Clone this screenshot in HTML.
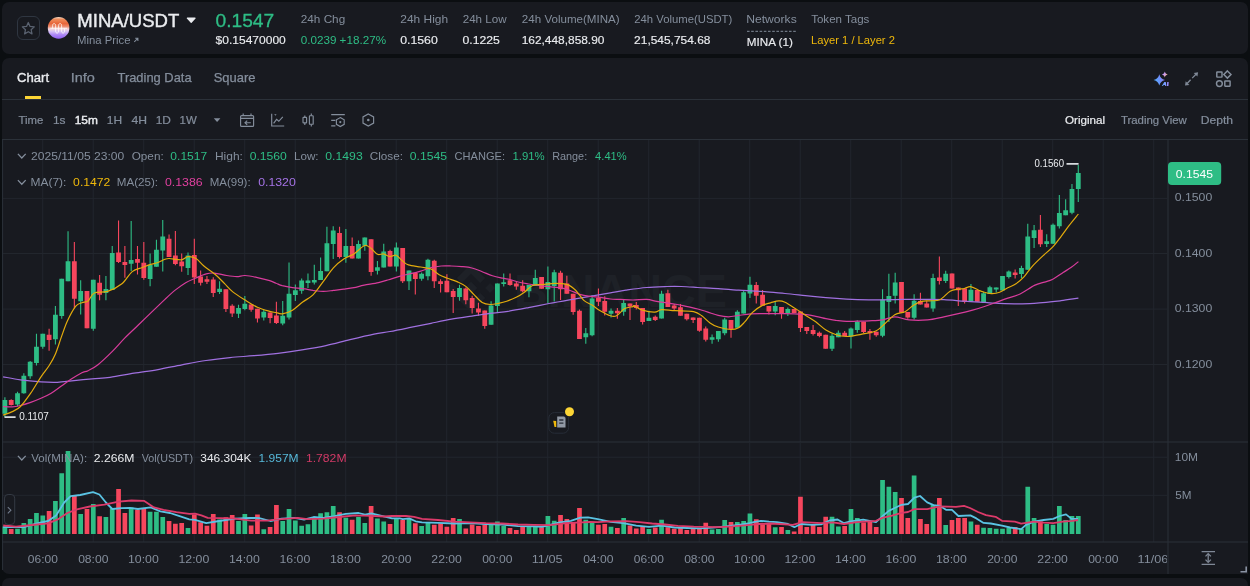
<!DOCTYPE html>
<html><head><meta charset="utf-8"><title>MINA/USDT</title>
<style>
html,body{margin:0;padding:0;background:#0b0e11;}
body{width:1250px;height:586px;position:relative;overflow:hidden;font-family:"Liberation Sans",sans-serif;}
.panel{position:absolute;background:#181a20;border-radius:7px;}
.abs{position:absolute;}
.t{position:absolute;white-space:nowrap;line-height:1;transform-origin:0 0;font-family:"Liberation Sans",sans-serif;}
.hline{position:absolute;left:2px;width:1246px;height:1px;background:#2b3139;}
.chart{position:absolute;left:0;top:0;}
.txt{position:absolute;left:0;top:0;width:1250px;height:586px;will-change:transform;}
.xaxis{position:absolute;left:0;top:0;width:1167px;height:586px;overflow:hidden;}
</style></head><body>
<div class="panel" style="left:2px;top:2px;width:1246px;height:52px"></div>
<div class="panel" style="left:2px;top:57.6px;width:1246px;height:516.4px;border-bottom-right-radius:0"></div>
<div class="panel" style="left:2px;top:577.6px;width:1246px;height:30px"></div>
<div class="hline" style="top:99px"></div>
<div class="hline" style="top:139px"></div>
<svg class="chart" width="1250" height="586" viewBox="0 0 1250 586">
<path d="M42.7,140V442M42.7,443V542M93.2,140V442M93.2,443V542M143.7,140V442M143.7,443V542M194.2,140V442M194.2,443V542M244.7,140V442M244.7,443V542M295.2,140V442M295.2,443V542M345.7,140V442M345.7,443V542M396.2,140V442M396.2,443V542M446.7,140V442M446.7,443V542M497.2,140V442M497.2,443V542M547.7,140V442M547.7,443V542M598.2,140V442M598.2,443V542M648.7,140V442M648.7,443V542M699.2,140V442M699.2,443V542M749.7,140V442M749.7,443V542M800.2,140V442M800.2,443V542M850.7,140V442M850.7,443V542M901.2,140V442M901.2,443V542M951.7,140V442M951.7,443V542M1002.2,140V442M1002.2,443V542M1052.7,140V442M1052.7,443V542M1103.2,140V442M1103.2,443V542M1153.7,140V442M1153.7,443V542M3,198.4H1167M3,253.5H1167M3,309.1H1167M3,364.5H1167M3,457.2H1167M3,495.3H1167" stroke="#22262d" stroke-width="1" fill="none"/>
<g fill="#1e2127">
<text x="514" y="307.3" font-family="Liberation Sans, sans-serif" font-weight="700" font-size="47" textLength="213" lengthAdjust="spacingAndGlyphs">BINANCE</text>
<g transform="translate(471,288) rotate(45)"><rect x="-4.5" y="-4.5" width="9" height="9"/><path d="M-17,-17H3V-10H-10V3H-17Z"/><path d="M17,17H-3V10H10V-3H17Z"/><rect x="10" y="-17" width="7" height="7"/><rect x="-17" y="10" width="7" height="7"/></g>
</g>
<path d="M2,442H1248M2,542H1248M1168,140V574M2.6,140V570" stroke="#2b3139" stroke-width="1" fill="none"/>
<path d="M2.55,526.6H7.25V534H2.55ZM15.18,528.7H19.88V534H15.18ZM21.49,522.9H26.19V534H21.49ZM27.81,518.9H32.51V534H27.81ZM34.12,513.0H38.82V534H34.12ZM40.43,515.4H45.13V534H40.43ZM53.06,500.9H57.76V534H53.06ZM59.38,473.2H64.08V534H59.38ZM65.69,450.9H70.39V534H65.69ZM78.32,514.1H83.02V534H78.32ZM90.95,504.1H95.65V534H90.95ZM103.57,517.0H108.27V534H103.57ZM109.89,508.2H114.59V534H109.89ZM128.83,507.4H133.53V534H128.83ZM147.77,511.8H152.47V534H147.77ZM154.09,511.8H158.79V534H154.09ZM160.40,517.0H165.10V534H160.40ZM185.66,527.9H190.36V534H185.66ZM217.23,519.4H221.93V534H217.23ZM236.17,521.0H240.87V534H236.17ZM242.48,514.1H247.18V534H242.48ZM261.42,529.3H266.12V534H261.42ZM280.37,521.0H285.07V534H280.37ZM286.68,509.0H291.38V534H286.68ZM292.99,520.5H297.69V534H292.99ZM299.31,525.8H304.01V534H299.31ZM305.62,524.2H310.32V534H305.62ZM311.94,517.0H316.64V534H311.94ZM318.25,513.3H322.95V534H318.25ZM324.56,512.2H329.26V534H324.56ZM330.88,506.1H335.58V534H330.88ZM343.51,517.8H348.21V534H343.51ZM356.13,517.0H360.83V534H356.13ZM362.45,522.9H367.15V534H362.45ZM375.08,518.6H379.78V534H375.08ZM381.39,521.5H386.09V534H381.39ZM394.02,518.4H398.72V534H394.02ZM406.65,518.4H411.35V534H406.65ZM419.27,525.9H423.97V534H419.27ZM425.59,522.9H430.29V534H425.59ZM457.16,518.9H461.86V534H457.16ZM488.73,523.5H493.43V534H488.73ZM495.04,521.6H499.74V534H495.04ZM501.36,525.9H506.06V534H501.36ZM526.61,526.4H531.31V534H526.61ZM532.93,526.4H537.63V534H532.93ZM545.55,516.0H550.25V534H545.55ZM551.87,520.8H556.57V534H551.87ZM583.44,519.8H588.14V534H583.44ZM589.75,522.4H594.45V534H589.75ZM608.69,526.7H613.39V534H608.69ZM621.32,517.9H626.02V534H621.32ZM646.58,529.1H651.28V534H646.58ZM659.21,519.7H663.91V534H659.21ZM709.72,529.6H714.42V534H709.72ZM716.03,529.1H720.73V534H716.03ZM722.35,520.0H727.05V534H722.35ZM734.97,522.1H739.67V534H734.97ZM741.29,521.1H745.99V534H741.29ZM747.60,513.6H752.30V534H747.60ZM772.86,527.2H777.56V534H772.86ZM785.49,529.9H790.19V534H785.49ZM829.68,516.8H834.38V534H829.68ZM836.00,526.4H840.70V534H836.00ZM848.63,509.1H853.33V534H848.63ZM854.94,518.1H859.64V534H854.94ZM880.20,480.0H884.90V534H880.20ZM886.51,486.7H891.21V534H886.51ZM892.82,492.0H897.52V534H892.82ZM911.77,475.5H916.47V534H911.77ZM930.71,504.8H935.41V534H930.71ZM943.34,525.1H948.04V534H943.34ZM968.59,521.6H973.29V534H968.59ZM981.22,527.7H985.92V534H981.22ZM987.53,528.0H992.23V534H987.53ZM993.85,528.8H998.55V534H993.85ZM1000.16,528.8H1004.86V534H1000.16ZM1006.48,528.0H1011.18V534H1006.48ZM1019.10,528.8H1023.80V534H1019.10ZM1025.42,486.7H1030.12V534H1025.42ZM1031.73,518.1H1036.43V534H1031.73ZM1044.36,524.0H1049.06V534H1044.36ZM1050.67,524.8H1055.37V534H1050.67ZM1056.99,506.1H1061.69V534H1056.99ZM1063.30,520.0H1068.00V534H1063.30ZM1069.62,516.0H1074.32V534H1069.62ZM1075.93,516.0H1080.63V534H1075.93Z" fill="#2ebd85"/>
<path d="M8.86,529.0H13.56V534H8.86ZM46.75,511.0H51.45V534H46.75ZM72.00,496.1H76.70V534H72.00ZM84.63,509.0H89.33V534H84.63ZM97.26,516.2H101.96V534H97.26ZM116.20,488.9H120.90V534H116.20ZM122.52,513.0H127.22V534H122.52ZM135.14,509.8H139.84V534H135.14ZM141.46,509.0H146.16V534H141.46ZM166.71,521.0H171.41V534H166.71ZM173.03,523.7H177.73V534H173.03ZM179.34,522.9H184.04V534H179.34ZM191.97,514.6H196.67V534H191.97ZM198.28,522.3H202.98V534H198.28ZM204.60,525.8H209.30V534H204.60ZM210.91,514.1H215.61V534H210.91ZM223.54,517.3H228.24V534H223.54ZM229.85,515.0H234.55V534H229.85ZM248.80,525.5H253.50V534H248.80ZM255.11,514.6H259.81V534H255.11ZM267.74,527.1H272.44V534H267.74ZM274.05,504.9H278.75V534H274.05ZM337.19,512.2H341.89V534H337.19ZM349.82,519.7H354.52V534H349.82ZM368.76,506.1H373.46V534H368.76ZM387.70,523.9H392.40V534H387.70ZM400.33,520.0H405.03V534H400.33ZM412.96,523.2H417.66V534H412.96ZM431.90,524.8H436.60V534H431.90ZM438.22,523.5H442.92V534H438.22ZM444.53,526.7H449.23V534H444.53ZM450.84,517.9H455.54V534H450.84ZM463.47,528.5H468.17V534H463.47ZM469.79,524.5H474.49V534H469.79ZM476.10,525.9H480.80V534H476.10ZM482.41,524.8H487.11V534H482.41ZM507.67,528.0H512.37V534H507.67ZM513.98,529.9H518.68V534H513.98ZM520.30,526.4H525.00V534H520.30ZM539.24,527.2H543.94V534H539.24ZM558.18,514.9H562.88V534H558.18ZM564.50,518.9H569.20V534H564.50ZM570.81,521.9H575.51V534H570.81ZM577.12,508.0H581.82V534H577.12ZM596.07,524.8H600.77V534H596.07ZM602.38,524.0H607.08V534H602.38ZM615.01,528.0H619.71V534H615.01ZM627.64,525.6H632.34V534H627.64ZM633.95,528.5H638.65V534H633.95ZM640.26,526.4H644.96V534H640.26ZM652.89,527.5H657.59V534H652.89ZM665.52,527.2H670.22V534H665.52ZM671.83,528.8H676.53V534H671.83ZM678.15,527.5H682.85V534H678.15ZM684.46,529.9H689.16V534H684.46ZM690.78,528.8H695.48V534H690.78ZM697.09,529.1H701.79V534H697.09ZM703.40,522.7H708.10V534H703.40ZM728.66,522.1H733.36V534H728.66ZM753.92,519.2H758.62V534H753.92ZM760.23,524.3H764.93V534H760.23ZM766.54,524.0H771.24V534H766.54ZM779.17,527.0H783.87V534H779.17ZM791.80,531.5H796.50V534H791.80ZM798.11,496.8H802.81V534H798.11ZM804.43,526.9H809.13V534H804.43ZM810.74,524.8H815.44V534H810.74ZM817.06,526.9H821.76V534H817.06ZM823.37,516.8H828.07V534H823.37ZM842.31,526.1H847.01V534H842.31ZM861.25,522.4H865.95V534H861.25ZM867.57,521.6H872.27V534H867.57ZM873.88,526.9H878.58V534H873.88ZM899.14,497.9H903.84V534H899.14ZM905.45,518.1H910.15V534H905.45ZM918.08,518.9H922.78V534H918.08ZM924.39,524.0H929.09V534H924.39ZM937.02,497.9H941.72V534H937.02ZM949.65,520.0H954.35V534H949.65ZM955.96,517.9H960.66V534H955.96ZM962.28,517.9H966.98V534H962.28ZM974.91,524.8H979.61V534H974.91ZM1012.79,526.9H1017.49V534H1012.79ZM1038.05,521.6H1042.75V534H1038.05Z" fill="#f6465d"/>
<path d="M3.2,527.1 L24.1,527.1 L36.9,523.4 L48.1,521.0 L56.1,515.4 L64.2,502.5 L70.6,496.1 L80.2,495.0 L93.0,492.1 L99.4,494.5 L105.9,502.5 L112.3,509.0 L121.9,508.2 L129.9,507.8 L137.9,509.0 L150.8,507.4 L160.4,511.4 L170.0,513.0 L179.6,516.2 L189.3,519.4 L195.0,519.8 L206.2,523.1 L219.1,521.0 L235.1,518.6 L249.5,517.8 L259.2,518.1 L270.4,521.0 L281.6,518.6 L294.4,517.8 L304.1,519.7 L313.7,517.0 L323.3,517.8 L334.5,516.2 L345.8,513.8 L358.6,513.0 L365.0,514.6 L371.4,513.4 L382.7,516.2 L392.0,518.4 L399.6,518.4 L402.8,519.2 L409.2,518.4 L415.6,521.3 L422.0,522.4 L438.0,522.9 L454.0,523.5 L470.0,523.2 L486.0,524.0 L502.0,524.5 L518.0,526.1 L534.0,526.4 L542.0,526.9 L550.0,524.8 L559.6,522.4 L570.8,520.8 L580.4,517.6 L588.0,517.4 L597.8,519.2 L610.6,521.9 L623.4,523.2 L636.2,525.6 L649.0,526.9 L661.8,525.6 L674.6,527.5 L687.4,528.0 L700.2,528.3 L713.0,527.7 L725.8,526.4 L738.6,524.8 L748.2,523.5 L754.6,521.9 L761.0,520.8 L769.0,521.6 L777.0,522.2 L788.0,524.0 L794.4,527.2 L800.8,524.0 L812.0,524.8 L821.6,524.3 L829.6,520.5 L837.6,519.5 L844.0,523.2 L850.4,521.3 L863.2,519.7 L876.0,522.1 L882.4,516.3 L888.8,510.9 L895.2,507.7 L901.6,504.8 L908.0,504.0 L914.4,497.6 L920.0,496.0 L927.2,502.4 L933.6,505.1 L940.0,505.9 L946.4,509.9 L952.0,509.9 L958.4,516.0 L970.4,515.4 L976.4,518.4 L983.6,522.9 L990.8,523.5 L1002.0,525.6 L1010.0,527.5 L1021.2,529.1 L1026.0,524.8 L1034.0,521.6 L1043.6,520.0 L1053.2,518.9 L1059.6,516.0 L1066.0,514.4 L1071.6,518.9 L1078.0,518.9" stroke="#5ac3e3" stroke-width="1.8" fill="none" stroke-linejoin="round"/>
<path d="M3.2,525.5 L16.0,526.6 L32.1,525.0 L48.1,523.4 L57.7,519.4 L67.4,513.0 L77.0,509.4 L89.8,506.5 L104.3,504.6 L118.7,501.7 L131.5,500.5 L144.3,500.9 L154.0,507.4 L163.6,509.8 L176.4,512.2 L189.3,513.8 L195.0,513.6 L201.4,515.4 L207.8,517.8 L220.7,518.1 L235.1,518.6 L251.1,520.7 L267.2,520.7 L281.6,519.1 L297.6,517.8 L307.3,519.1 L323.3,518.6 L339.3,517.0 L355.4,515.4 L371.4,515.9 L384.2,516.5 L392.0,516.0 L406.0,516.0 L414.0,516.8 L422.0,518.9 L438.0,520.0 L454.0,521.6 L470.0,522.4 L486.0,523.2 L502.0,523.5 L518.0,524.5 L534.0,524.8 L550.0,525.1 L566.0,523.2 L582.0,522.4 L590.0,522.0 L597.8,522.1 L610.6,521.3 L626.6,521.1 L639.4,522.1 L652.2,523.5 L665.0,524.5 L677.8,525.9 L693.8,526.7 L706.6,526.9 L719.4,527.2 L732.2,526.4 L745.0,525.3 L757.8,524.0 L770.6,523.5 L780.0,524.0 L792.8,524.8 L802.4,522.1 L821.6,523.2 L832.8,522.4 L844.0,524.0 L856.8,522.1 L876.0,520.8 L882.4,517.9 L892.0,515.7 L901.6,512.8 L908.0,512.0 L914.4,509.1 L927.2,509.1 L933.6,507.7 L940.0,506.4 L956.0,506.9 L964.0,505.9 L970.0,508.0 L978.0,512.0 L986.0,515.2 L995.6,516.8 L1002.0,520.8 L1014.8,521.6 L1021.2,523.7 L1034.0,521.6 L1043.6,522.7 L1053.2,523.2 L1062.8,521.6 L1072.4,520.8 L1078.0,520.0" stroke="#dc3a6a" stroke-width="1.8" fill="none" stroke-linejoin="round"/>
<path d="M4.90,397.3V417.0M17.53,391.7V406.5M23.84,373.3V393.8M30.16,361.0V378.8M36.47,333.8V365.5M42.78,333.8V348.7M55.41,306.0V344.6M61.73,278.7V318.8M68.04,231.2V281.2M80.67,280.2V314.5M93.30,279.7V330.7M105.92,276.0V300.2M112.24,246.0V290.0M131.18,221.0V271.0M150.12,253.5V286.3M156.44,239.7V266.8M162.75,220.0V271.5M188.01,252.4V275.1M219.58,281.3V294.0M238.52,304.8V318.1M244.83,296.0V310.3M263.77,309.3V320.6M282.72,301.0V325.2M289.03,262.5V319.4M295.34,284.6V301.0M301.66,278.5V293.8M307.97,273.4V288.1M314.29,264.8V284.6M320.60,257.4V280.1M326.91,226.7V271.3M333.23,226.3V259.0M345.86,228.9V262.7M358.48,240.6V258.6M364.80,237.5V250.8M377.43,261.1V274.4M383.74,243.7V267.6M396.37,242.5V271.5M409.00,270.5V290.1M421.62,272.5V280.7M427.94,258.8V280.3M459.51,284.8V300.8M491.08,301.2V324.7M497.39,283.4V312.0M503.71,273.5V286.4M528.96,285.0V297.3M535.28,269.7V286.1M547.90,266.6V303.5M554.22,269.7V301.4M585.79,328.1V343.8M592.10,294.9V336.3M611.04,308.6V317.4M623.67,299.4V315.8M648.93,310.7V320.9M661.56,290.8V318.4M712.07,334.6V343.8M718.38,331.1V341.8M724.70,317.8V335.2M737.32,310.2V327.7M743.64,290.8V313.5M749.95,276.8V298.1M775.21,301.9V315.2M787.84,307.5V316.1M832.03,333.5V351.1M838.35,330.6V337.2M850.98,327.5V348.4M857.29,320.2V332.7M882.55,289.2V337.3M888.86,273.8V321.9M895.17,272.8V303.5M914.12,294.3V319.5M933.06,273.8V311.7M945.69,270.7V283.0M970.94,284.0V301.4M983.57,291.8V301.9M989.88,285.8V294.0M996.20,287.4V292.5M1002.51,275.9V290.5M1008.83,270.4V278.6M1021.45,265.7V278.2M1027.77,223.7V269.8M1034.08,225.0V247.9M1046.71,234.3V246.9M1053.02,223.5V243.8M1059.34,195.1V228.6M1065.65,199.2V215.2M1071.97,183.9V214.2M1078.28,165.0V202.1" stroke="#2ebd85" stroke-width="1.1" fill="none"/>
<path d="M11.21,399.2V405.5M49.10,328.7V350.8M74.35,241.9V308.4M86.98,291.0V328.3M99.61,275.0V300.2M118.55,220.4V263.0M124.87,246.0V277.7M137.49,246.0V274.6M143.81,241.9V279.7M169.06,234.6V257.1M175.38,231.1V265.3M181.69,253.4V271.8M194.32,238.7V284.1M200.63,270.4V285.4M206.95,275.9V284.1M213.26,277.2V297.0M225.89,289.3V312.0M232.20,304.2V317.1M251.15,304.6V311.8M257.46,308.7V322.6M270.09,312.4V323.3M276.40,301.8V324.0M339.54,226.7V258.6M352.17,237.5V258.6M371.11,239.2V275.8M390.05,249.8V266.4M402.68,247.9V283.0M415.31,273.1V294.6M434.25,259.8V287.9M440.57,279.3V292.6M446.88,274.2V292.2M453.19,288.9V313.1M465.82,287.5V304.3M472.14,295.7V313.5M478.45,302.8V315.7M484.76,310.4V328.8M510.02,273.6V285.8M516.33,282.0V289.8M522.65,280.3V292.2M541.59,276.9V288.7M560.53,270.7V300.0M566.85,275.8V293.7M573.16,293.7V314.8M579.47,309.6V338.9M598.42,288.5V305.9M604.73,296.3V315.4M617.36,308.0V318.8M629.99,303.5V319.9M636.30,302.0V309.6M642.61,308.0V324.4M655.24,315.4V320.9M667.87,289.8V307.0M674.18,304.1V310.2M680.50,304.1V315.8M686.81,313.7V320.5M693.13,317.4V322.9M699.44,317.8V331.7M705.75,326.6V341.4M731.01,319.9V337.7M756.27,281.9V303.4M762.58,290.0V305.8M768.89,306.0V314.6M781.52,307.0V318.7M794.15,309.1V313.0M800.46,311.6V332.0M806.78,326.9V334.1M813.09,324.9V335.5M819.41,331.4V337.2M825.72,334.7V348.8M844.66,331.0V336.1M863.60,321.8V333.1M869.92,329.1V339.7M876.23,331.7V336.7M901.49,282.0V312.7M907.80,312.1V318.8M920.43,292.8V304.5M926.74,300.8V307.6M939.37,256.4V284.6M952.00,273.4V288.5M958.31,287.5V305.9M964.63,288.5V303.5M977.26,290.0V301.8M1015.14,269.4V278.6M1040.40,215.1V246.9" stroke="#f6465d" stroke-width="1.1" fill="none"/>
<path d="M2.50,399.9H7.30V413.7H2.50ZM15.13,393.2H19.93V404.4H15.13ZM21.44,375.8H26.24V393.2H21.44ZM27.76,361.8H32.56V376.2H27.76ZM34.07,346.7H38.87V363.1H34.07ZM40.38,333.8H45.18V346.7H40.38ZM53.01,314.7H57.81V339.3H53.01ZM59.33,278.7H64.13V316.0H59.33ZM65.64,261.3H70.44V281.2H65.64ZM78.27,291.0H83.07V301.3H78.27ZM90.90,279.7H95.70V328.7H90.90ZM103.52,289.0H108.32V293.0H103.52ZM109.84,253.1H114.64V290.0H109.84ZM128.78,259.9H133.58V263.8H128.78ZM147.72,265.0H152.52V279.1H147.72ZM154.04,249.7H158.84V266.8H154.04ZM160.35,236.6H165.15V250.5H160.35ZM185.61,255.5H190.41V268.0H185.61ZM217.18,288.8H221.98V291.9H217.18ZM236.12,307.9H240.92V313.8H236.12ZM242.43,303.8H247.23V308.9H242.43ZM261.37,311.8H266.17V317.5H261.37ZM280.32,315.8H285.12V323.5H280.32ZM286.63,293.8H291.43V317.4H286.63ZM292.94,290.2H297.74V294.9H292.94ZM299.26,280.5H304.06V290.8H299.26ZM305.57,280.5H310.37V283.0H305.57ZM311.89,280.1H316.69V282.6H311.89ZM318.20,270.9H323.00V280.1H318.20ZM324.51,243.3H329.31V271.3H324.51ZM330.83,230.4H335.63V244.1H330.83ZM343.46,246.1H348.26V257.0H343.46ZM356.08,244.1H360.88V258.6H356.08ZM362.40,237.5H367.20V245.7H362.40ZM375.03,267.2H379.83V270.7H375.03ZM381.34,251.5H386.14V267.6H381.34ZM393.97,247.6H398.77V266.4H393.97ZM406.60,270.5H411.40V281.3H406.60ZM419.22,273.7H424.02V278.7H419.22ZM425.54,259.8H430.34V276.2H425.54ZM457.11,288.1H461.91V297.1H457.11ZM488.68,305.5H493.48V324.7H488.68ZM494.99,283.4H499.79V305.9H494.99ZM501.31,282.3H506.11V284.0H501.31ZM526.56,285.0H531.36V291.2H526.56ZM532.88,277.9H537.68V286.1H532.88ZM545.50,282.0H550.30V289.2H545.50ZM551.82,272.2H556.62V286.1H551.82ZM583.39,333.2H588.19V337.3H583.39ZM589.70,298.4H594.50V335.2H589.70ZM608.64,310.7H613.44V313.7H608.64ZM621.27,302.9H626.07V311.7H621.27ZM646.53,317.8H651.33V320.9H646.53ZM659.16,293.7H663.96V318.4H659.16ZM709.67,337.3H714.47V339.7H709.67ZM715.98,331.1H720.78V339.3H715.98ZM722.30,319.5H727.10V333.2H722.30ZM734.92,311.7H739.72V327.7H734.92ZM741.24,292.3H746.04V313.5H741.24ZM747.55,284.7H752.35V293.6H747.55ZM772.81,306.0H777.61V311.6H772.81ZM785.44,309.1H790.24V313.0H785.44ZM829.63,335.7H834.43V348.8H829.63ZM835.95,332.7H840.75V337.2H835.95ZM848.58,328.6H853.38V336.5H848.58ZM854.89,321.8H859.69V330.0H854.89ZM880.15,299.4H884.95V335.8H880.15ZM886.46,295.9H891.26V302.1H886.46ZM892.77,282.4H897.57V295.7H892.77ZM911.72,300.8H916.52V317.8H911.72ZM930.66,277.9H935.46V308.6H930.66ZM943.29,273.8H948.09V281.0H943.29ZM968.54,289.8H973.34V301.4H968.54ZM981.17,293.3H985.97V301.9H981.17ZM987.48,287.2H992.28V294.0H987.48ZM993.80,287.4H998.60V289.5H993.80ZM1000.11,275.9H1004.91V290.5H1000.11ZM1006.43,271.4H1011.23V277.0H1006.43ZM1019.05,268.0H1023.85V274.1H1019.05ZM1025.37,236.5H1030.17V269.8H1025.37ZM1031.68,230.2H1036.48V238.0H1031.68ZM1044.31,241.3H1049.11V243.9H1044.31ZM1050.62,224.8H1055.42V243.8H1050.62ZM1056.94,213.1H1061.74V226.3H1056.94ZM1063.25,210.2H1068.05V215.2H1063.25ZM1069.57,188.9H1074.37V212.7H1069.57ZM1075.88,173.0H1080.68V189.0H1075.88Z" fill="#2ebd85"/>
<path d="M8.81,399.9H13.61V404.9H8.81ZM46.70,334.8H51.50V339.9H46.70ZM71.95,261.3H76.75V298.8H71.95ZM84.58,291.0H89.38V328.3H84.58ZM97.21,282.8H102.01V294.7H97.21ZM116.15,252.5H120.95V261.9H116.15ZM122.47,261.9H127.27V265.0H122.47ZM135.09,258.9H139.89V262.8H135.09ZM141.41,262.8H146.21V278.1H141.41ZM166.66,238.7H171.46V257.1H166.66ZM172.98,255.5H177.78V263.9H172.98ZM179.29,261.6H184.09V266.3H179.29ZM191.92,255.1H196.72V277.6H191.92ZM198.23,276.6H203.03V282.7H198.23ZM204.55,279.2H209.35V281.7H204.55ZM210.86,279.6H215.66V292.9H210.86ZM223.49,289.3H228.29V308.9H223.49ZM229.80,305.8H234.60V313.4H229.80ZM248.75,304.6H253.55V309.7H248.75ZM255.06,308.7H259.86V318.5H255.06ZM267.69,312.4H272.49V318.1H267.69ZM274.00,315.4H278.80V323.0H274.00ZM337.14,233.0H341.94V257.0H337.14ZM349.77,246.1H354.57V258.6H349.77ZM368.71,239.2H373.51V271.9H368.71ZM387.65,251.0H392.45V266.4H387.65ZM400.28,247.9H405.08V281.3H400.28ZM412.91,273.1H417.71V278.9H412.91ZM431.85,260.8H436.65V281.3H431.85ZM438.17,281.3H442.97V284.0H438.17ZM444.48,280.7H449.28V292.2H444.48ZM450.79,290.9H455.59V297.1H450.79ZM463.42,288.5H468.22V300.2H463.42ZM469.74,298.1H474.54V307.9H469.74ZM476.05,308.6H480.85V312.4H476.05ZM482.36,310.4H487.16V326.0H482.36ZM507.62,280.3H512.42V285.0H507.62ZM513.93,283.6H518.73V286.5H513.93ZM520.25,285.7H525.05V291.2H520.25ZM539.19,276.9H543.99V288.7H539.19ZM558.13,272.8H562.93V289.2H558.13ZM564.45,283.4H569.25V293.7H564.45ZM570.76,293.7H575.56V312.1H570.76ZM577.07,310.7H581.87V338.9H577.07ZM596.02,297.8H600.82V301.8H596.02ZM602.33,301.0H607.13V311.7H602.33ZM614.96,310.7H619.76V313.3H614.96ZM627.59,303.5H632.39V306.6H627.59ZM633.90,305.1H638.70V308.0H633.90ZM640.21,308.0H645.01V321.9H640.21ZM652.84,316.8H657.64V319.9H652.84ZM665.47,293.2H670.27V307.0H665.47ZM671.78,305.5H676.58V308.6H671.78ZM678.10,307.2H682.90V315.8H678.10ZM684.41,313.7H689.21V319.3H684.41ZM690.73,317.4H695.53V319.9H690.73ZM697.04,317.8H701.84V330.7H697.04ZM703.35,328.5H708.15V339.7H703.35ZM728.61,319.9H733.41V329.1H728.61ZM753.87,284.9H758.67V295.8H753.87ZM760.18,294.8H764.98V305.8H760.18ZM766.49,306.0H771.29V311.6H766.49ZM779.12,307.0H783.92V313.6H779.12ZM791.75,309.1H796.55V313.0H791.75ZM798.06,311.6H802.86V327.9H798.06ZM804.38,326.9H809.18V331.0H804.38ZM810.69,330.0H815.49V334.1H810.69ZM817.01,332.7H821.81V336.1H817.01ZM823.32,334.7H828.12V348.8H823.32ZM842.26,332.7H847.06V336.1H842.26ZM861.20,321.8H866.00V331.9H861.20ZM867.52,331.1H872.32V333.2H867.52ZM873.83,331.7H878.63V335.2H873.83ZM899.09,282.0H903.89V312.7H899.09ZM905.40,312.1H910.20V317.4H905.40ZM918.03,301.0H922.83V304.5H918.03ZM924.34,303.5H929.14V307.6H924.34ZM936.97,277.5H941.77V281.0H936.97ZM949.60,273.4H954.40V288.5H949.60ZM955.91,287.5H960.71V290.2H955.91ZM962.23,288.5H967.03V302.1H962.23ZM974.86,290.0H979.66V301.8H974.86ZM1012.74,272.5H1017.54V275.1H1012.74ZM1038.00,229.8H1042.80V244.3H1038.00Z" fill="#f6465d"/>
<path d="M3.1,376.8 C6.0,377.3 14.2,379.0 20.5,379.9 C26.8,380.8 34.9,381.5 41.0,381.9 C47.1,382.3 52.2,382.5 57.3,382.3 C62.4,382.1 65.9,381.5 71.7,380.9 C77.5,380.3 85.8,379.4 92.2,378.8 C98.6,378.2 103.0,378.2 110.0,377.3 C117.0,376.4 126.0,374.5 134.0,373.2 C142.0,371.9 150.0,371.0 158.0,369.6 C166.0,368.2 174.0,366.3 182.0,364.8 C190.0,363.3 198.0,361.7 206.0,360.5 C214.0,359.3 222.0,358.4 230.0,357.6 C238.0,356.8 246.0,356.4 254.0,355.7 C262.0,355.0 270.0,354.3 278.0,353.3 C286.0,352.3 294.0,351.2 302.0,349.9 C310.0,348.6 318.0,347.3 326.0,345.6 C334.0,343.9 342.0,341.5 350.0,339.6 C358.0,337.7 367.3,335.5 374.0,334.1 C380.7,332.8 383.9,332.6 390.0,331.5 C396.1,330.4 403.7,328.8 410.5,327.4 C417.3,326.0 424.2,324.7 431.0,323.3 C437.8,321.9 444.6,320.4 451.4,319.2 C458.2,318.0 465.1,317.1 471.9,316.1 C478.7,315.1 486.4,313.9 492.4,313.1 C498.4,312.3 502.0,312.2 508.0,311.3 C514.0,310.4 521.7,308.9 528.5,307.6 C535.3,306.3 542.2,304.8 549.0,303.5 C555.8,302.2 562.6,301.0 569.4,299.8 C576.2,298.6 583.1,297.5 589.9,296.3 C596.7,295.1 604.4,293.8 610.4,292.8 C616.4,291.8 620.0,291.1 626.0,290.2 C632.0,289.3 639.7,288.1 646.5,287.5 C653.3,286.9 661.2,286.7 667.0,286.5 C672.8,286.3 676.2,286.3 681.3,286.5 C686.4,286.7 691.6,287.1 697.7,287.5 C703.9,287.9 711.4,288.2 718.2,288.7 C725.0,289.1 733.2,289.8 738.6,290.2 C744.0,290.6 746.6,290.6 750.9,290.8 C755.2,291.1 758.8,291.2 764.5,291.7 C770.2,292.1 778.2,292.9 785.0,293.5 C791.8,294.1 798.6,294.9 805.4,295.6 C812.2,296.3 819.1,297.0 825.9,297.6 C832.7,298.2 839.2,298.7 846.4,299.1 C853.6,299.5 862.9,299.8 868.9,299.9 C874.9,300.0 876.8,299.9 882.5,299.8 C888.2,299.7 896.2,299.5 903.0,299.4 C909.8,299.3 916.6,299.4 923.4,299.4 C930.2,299.4 937.1,299.3 943.9,299.6 C950.7,299.9 957.5,300.7 964.4,301.2 C971.2,301.7 979.8,302.1 985.0,302.4 C990.2,302.7 989.3,303.0 995.5,303.2 C1001.7,303.4 1014.2,303.9 1022.1,303.8 C1030.0,303.7 1036.1,303.1 1042.6,302.6 C1049.1,302.1 1055.0,301.4 1061.0,300.7 C1067.0,299.9 1075.5,298.5 1078.4,298.1" stroke="#a070e0" stroke-width="1.2" fill="none"/>
<path d="M3.1,406.5 C4.6,406.6 9.4,407.1 12.3,406.9 C15.2,406.7 17.4,406.2 20.5,405.5 C23.6,404.8 27.3,403.6 30.7,402.4 C34.1,401.2 37.6,399.8 41.0,398.3 C44.4,396.8 47.8,395.2 51.2,393.2 C54.6,391.1 58.0,388.4 61.4,386.0 C64.8,383.6 68.3,381.0 71.7,378.8 C75.1,376.6 79.2,374.1 81.9,372.7 C84.6,371.3 85.4,372.1 88.1,370.7 C90.8,369.3 94.2,367.8 98.3,364.5 C102.4,361.2 108.2,355.6 112.6,351.2 C117.0,346.8 120.6,342.3 124.9,337.9 C129.2,333.5 133.3,329.8 138.3,325.0 C143.3,320.2 150.5,313.2 155.0,308.9 C159.5,304.6 161.8,302.3 165.2,299.1 C168.6,295.9 172.1,292.6 175.5,289.9 C178.9,287.2 182.3,284.7 185.7,282.7 C189.1,280.7 192.6,279.5 196.0,278.0 C199.4,276.5 203.1,274.7 206.2,273.9 C209.3,273.1 211.0,272.8 214.4,273.1 C217.8,273.4 222.9,274.9 226.7,275.5 C230.4,276.1 233.8,276.6 236.9,276.6 C240.0,276.6 241.7,275.3 245.1,275.5 C248.5,275.7 253.3,276.7 257.4,277.6 C261.5,278.5 266.6,279.8 269.7,280.7 C272.8,281.6 273.9,282.4 276.0,283.2 C278.1,284.0 279.4,284.9 282.2,285.7 C284.9,286.4 289.1,287.2 292.5,287.7 C295.9,288.2 299.3,288.2 302.7,288.7 C306.1,289.1 309.6,289.9 313.0,290.4 C316.4,290.8 319.8,291.4 323.2,291.4 C326.6,291.4 330.0,290.8 333.4,290.4 C336.8,290.0 340.3,289.6 343.7,289.1 C347.1,288.7 350.5,288.4 353.9,287.7 C357.3,287.0 360.1,286.0 364.2,285.2 C368.3,284.4 374.4,283.5 378.5,282.6 C382.6,281.7 385.1,280.8 388.7,279.7 C392.3,278.6 396.6,277.2 400.2,276.2 C403.8,275.2 407.1,274.5 410.5,273.7 C413.9,272.9 417.3,272.1 420.7,271.1 C424.1,270.1 427.6,268.5 431.0,267.6 C434.4,266.8 437.8,266.3 441.2,266.0 C444.6,265.7 448.0,265.9 451.4,266.0 C454.8,266.1 458.3,266.3 461.7,266.6 C465.1,266.9 468.5,267.1 471.9,268.0 C475.3,268.9 478.8,270.4 482.2,271.7 C485.6,273.0 489.0,274.7 492.4,275.8 C495.8,276.9 499.7,277.6 502.6,278.2 C505.5,278.8 507.4,278.9 510.0,279.5 C512.6,280.1 515.1,281.2 518.2,282.0 C521.3,282.8 525.1,283.4 528.5,284.0 C531.9,284.6 535.3,285.1 538.7,285.5 C542.1,285.9 545.6,286.3 549.0,286.7 C552.4,287.1 555.8,287.1 559.2,287.7 C562.6,288.3 566.0,289.1 569.4,290.2 C572.8,291.3 576.3,293.3 579.7,294.3 C583.1,295.3 586.5,295.8 589.9,296.3 C593.3,296.8 596.8,296.9 600.2,297.3 C603.6,297.8 607.0,298.6 610.4,299.0 C613.8,299.4 616.9,299.2 620.6,299.4 C624.4,299.6 628.6,300.0 632.9,300.0 C637.2,300.0 642.5,299.2 646.5,299.4 C650.5,299.6 653.3,300.8 656.7,301.4 C660.1,302.0 663.6,302.4 667.0,302.9 C670.4,303.4 673.8,303.9 677.2,304.5 C680.6,305.1 684.0,305.9 687.4,306.6 C690.8,307.4 694.3,308.1 697.7,309.0 C701.1,309.9 704.5,311.0 707.9,312.1 C711.3,313.2 714.8,314.6 718.2,315.4 C721.6,316.2 725.0,316.8 728.4,316.8 C731.8,316.8 734.9,315.9 738.6,315.4 C742.4,314.9 746.6,314.2 750.9,313.9 C755.2,313.6 758.8,313.7 764.5,313.6 C770.2,313.6 778.9,313.5 785.0,313.6 C791.1,313.7 796.2,313.8 801.3,314.2 C806.4,314.6 811.6,315.6 815.7,316.3 C819.8,317.1 822.5,318.0 825.9,318.7 C829.3,319.4 832.8,319.9 836.2,320.4 C839.6,320.8 843.0,321.3 846.4,321.4 C849.8,321.5 852.9,321.3 856.6,321.2 C860.4,321.1 864.6,321.0 868.9,320.8 C873.2,320.6 878.2,320.6 882.5,319.9 C886.8,319.2 890.4,316.8 894.8,316.8 C899.2,316.8 903.6,319.4 909.1,319.9 C914.6,320.4 921.7,320.4 927.5,319.9 C933.3,319.4 938.8,317.8 943.9,316.8 C949.0,315.8 953.5,314.8 958.3,313.7 C963.1,312.6 968.1,311.4 972.6,310.2 C977.1,309.0 981.4,307.6 985.2,306.3 C989.0,305.0 991.7,304.0 995.5,302.6 C999.3,301.2 1003.7,299.5 1007.8,298.1 C1011.9,296.7 1015.7,296.1 1020.1,294.0 C1024.5,291.9 1030.3,287.4 1034.4,285.4 C1038.5,283.4 1041.5,283.1 1044.6,282.1 C1047.7,281.1 1049.7,280.8 1052.8,279.2 C1055.9,277.6 1060.0,274.5 1063.1,272.5 C1066.2,270.5 1068.8,269.1 1071.3,267.3 C1073.8,265.5 1077.2,262.6 1078.4,261.6" stroke="#d83c9c" stroke-width="1.2" fill="none"/>
<path d="M3.1,415.1 C4.6,414.5 9.4,413.0 12.3,411.6 C15.2,410.2 17.4,409.6 20.5,406.5 C23.6,403.4 27.3,398.1 30.7,393.2 C34.1,388.2 37.9,381.4 41.0,376.8 C44.1,372.2 46.8,369.2 49.2,365.5 C51.6,361.8 53.3,359.1 55.3,354.3 C57.3,349.5 59.4,342.5 61.4,336.9 C63.4,331.3 65.2,325.6 67.6,320.5 C70.0,315.4 73.4,309.1 75.8,306.1 C78.2,303.1 79.9,303.6 81.9,302.7 C84.0,301.8 86.0,302.6 88.1,301.0 C90.2,299.4 91.0,294.6 94.3,293.0 C97.5,291.4 103.0,292.9 107.6,291.4 C112.2,289.9 117.8,287.1 121.9,283.8 C126.0,280.5 128.8,274.3 132.2,271.6 C135.6,268.9 139.3,268.7 142.4,267.5 C145.5,266.3 148.0,265.2 150.6,264.4 C153.2,263.6 155.6,263.4 158.0,262.5 C160.4,261.6 163.0,260.0 164.9,259.3 C166.8,258.6 166.5,258.4 169.3,258.5 C172.1,258.6 178.5,260.1 181.6,259.8 C184.7,259.5 185.4,256.9 187.8,256.7 C190.2,256.5 193.3,256.9 196.0,258.5 C198.7,260.1 200.8,263.5 204.2,266.3 C207.6,269.1 213.0,272.6 216.4,275.5 C219.8,278.4 221.9,281.0 224.6,283.7 C227.3,286.4 229.4,289.2 232.8,291.9 C236.2,294.6 241.0,297.5 245.1,300.1 C249.2,302.7 253.3,305.4 257.4,307.3 C261.5,309.2 266.6,310.5 269.7,311.4 C272.8,312.3 273.9,312.1 276.0,312.5 C278.1,312.9 279.4,314.3 282.2,313.9 C284.9,313.5 289.1,312.2 292.5,310.2 C295.9,308.2 299.3,304.6 302.7,302.0 C306.1,299.4 309.6,298.3 313.0,294.9 C316.4,291.5 319.8,286.1 323.2,281.6 C326.6,277.1 330.0,271.6 333.4,267.8 C336.8,264.0 340.3,261.3 343.7,259.0 C347.1,256.7 350.5,256.1 353.9,253.9 C357.3,251.7 361.5,246.7 364.2,245.7 C366.9,244.7 368.1,246.4 370.3,247.8 C372.5,249.2 375.3,253.3 377.5,254.3 C379.7,255.3 381.6,253.5 383.6,253.9 C385.7,254.3 387.7,256.4 389.8,256.6 C391.9,256.8 394.0,254.6 396.1,255.3 C398.2,256.0 400.2,259.2 402.3,260.8 C404.4,262.4 405.3,263.9 408.4,264.9 C411.5,265.9 416.9,266.3 420.7,267.0 C424.5,267.7 427.9,267.7 431.0,269.0 C434.1,270.3 436.5,273.3 439.2,274.8 C441.9,276.3 444.2,277.0 447.3,278.2 C450.4,279.4 454.5,280.5 457.6,281.9 C460.7,283.3 463.1,284.3 465.8,286.4 C468.5,288.5 471.3,291.9 474.0,294.6 C476.7,297.3 479.5,300.8 482.2,302.4 C484.9,304.0 487.6,304.3 490.3,304.5 C493.0,304.7 495.8,303.9 498.5,303.4 C501.2,302.8 503.8,302.2 506.7,301.2 C509.6,300.2 513.2,298.8 516.2,297.3 C519.2,295.8 521.7,294.2 524.4,292.2 C527.1,290.2 529.5,286.8 532.6,285.5 C535.7,284.2 539.0,285.0 542.8,284.6 C546.5,284.2 551.0,283.4 555.1,283.4 C559.2,283.4 564.0,283.5 567.4,284.6 C570.8,285.7 572.9,287.6 575.6,290.2 C578.3,292.8 581.1,297.9 583.8,300.4 C586.5,302.9 589.3,303.4 592.0,305.1 C594.7,306.8 597.1,308.9 600.2,310.7 C603.3,312.5 607.7,314.9 610.4,315.8 C613.1,316.7 614.1,317.0 616.5,315.8 C618.9,314.6 622.0,310.1 624.7,308.6 C627.4,307.1 631.3,307.1 632.9,306.6 C634.5,306.2 632.6,305.3 634.2,305.9 C635.8,306.5 639.0,309.2 642.4,310.2 C645.8,311.2 651.5,312.2 654.7,312.1 C657.9,312.0 658.4,309.8 661.8,309.6 C665.2,309.4 669.9,310.4 675.2,310.7 C680.5,311.0 689.2,310.8 693.6,311.7 C698.0,312.6 699.1,313.9 701.8,315.8 C704.5,317.7 707.3,321.0 710.0,322.9 C712.7,324.8 714.8,325.9 718.2,327.0 C721.6,328.1 727.0,329.4 730.4,329.5 C733.8,329.6 736.2,329.0 738.6,327.7 C741.0,326.4 742.5,324.4 744.8,321.9 C747.1,319.4 749.3,315.4 752.2,312.6 C755.1,309.9 759.3,307.0 762.4,305.4 C765.5,303.8 767.9,303.6 770.6,302.8 C773.3,302.1 776.4,301.0 778.8,300.9 C781.2,300.8 782.3,301.0 785.0,302.3 C787.7,303.6 791.8,306.4 795.2,308.5 C798.6,310.6 802.0,313.0 805.4,315.2 C808.8,317.4 812.3,319.3 815.7,321.8 C819.1,324.3 822.5,327.9 825.9,330.0 C829.3,332.1 832.8,333.6 836.2,334.7 C839.6,335.8 843.0,336.4 846.4,336.5 C849.8,336.6 854.0,335.5 856.6,335.1 C859.2,334.7 858.7,334.9 862.0,334.2 C865.3,333.5 872.5,332.4 876.3,330.7 C880.0,329.0 881.4,326.7 884.5,324.0 C887.6,321.3 891.4,316.8 894.8,314.7 C898.2,312.6 901.9,313.2 905.0,311.7 C908.1,310.2 910.5,307.2 913.2,305.5 C915.9,303.8 918.7,302.2 921.4,301.4 C924.1,300.6 926.5,301.1 929.6,300.8 C932.7,300.5 936.4,301.4 939.8,299.8 C943.2,298.2 947.0,293.0 950.1,291.2 C953.2,289.4 955.9,289.6 958.3,289.2 C960.7,288.8 962.4,288.9 964.4,288.5 C966.4,288.1 968.1,286.4 970.5,286.7 C972.9,287.0 976.6,289.3 978.7,290.2 C980.8,291.1 981.1,291.3 983.2,291.9 C985.3,292.5 988.7,293.5 991.4,293.6 C994.1,293.7 996.9,293.3 999.6,292.3 C1002.3,291.3 1005.1,289.2 1007.8,287.8 C1010.5,286.4 1013.3,285.6 1016.0,283.7 C1018.7,281.8 1021.5,279.5 1024.2,276.6 C1026.9,273.7 1029.2,269.7 1032.3,266.3 C1035.4,262.9 1039.2,259.3 1042.6,256.1 C1046.0,252.9 1049.7,250.2 1052.8,246.9 C1055.9,243.7 1058.3,240.2 1061.0,236.6 C1063.7,233.0 1066.3,229.2 1069.2,225.4 C1072.1,221.6 1076.9,215.9 1078.4,214.0" stroke="#e3ab0c" stroke-width="1.2" fill="none"/>
<path d="M1066.5,163.9H1078.6M4.5,417.1H15.6" stroke="#d8dbdf" stroke-width="1.6" fill="none"/>
<rect x="1168" y="162" width="53.2" height="23" rx="4" fill="#2ebd85"/>
<path d="M17.9,153.9L21.8,158.0L25.7,153.9" stroke="#848e9c" stroke-width="1.3" fill="none"/>
<path d="M17.9,180.1L21.8,184.2L25.7,180.1" stroke="#848e9c" stroke-width="1.3" fill="none"/>
<path d="M17.9,455.9L21.8,460.0L25.7,455.9" stroke="#848e9c" stroke-width="1.3" fill="none"/>
<rect x="4.5" y="494.5" width="10.2" height="30" rx="3.6" fill="#181a20" stroke="#343a44" stroke-width="1"/>
<path d="M7.8,507.1L10.9,510.2L7.8,513.3" stroke="#707a8a" stroke-width="1.1" fill="none"/>
<rect x="548.8" y="412.6" width="19.8" height="20.6" rx="5.5" fill="#181a20" stroke="#272d37" stroke-width="1"/>
<path d="M553.2,420.7L556.2,420.9L556.3,427L554.5,427Z" fill="#f0b90b"/>
<path d="M557.2,416.6H564.2L565.5,417.8V427.6H557.2Z" fill="#929aa6"/>
<path d="M559.2,420H563.4M559.2,423.1H563.4" stroke="#2b313b" stroke-width="1.3" fill="none"/>
<circle cx="569.5" cy="411.7" r="5.4" fill="#181a20"/>
<circle cx="569.5" cy="411.7" r="4.5" fill="#fcd535"/>
<path d="M1201.6,551.6H1215M1201.6,564.4H1215M1208.2,554V562" stroke="#7f8896" stroke-width="1.3" fill="none"/><path d="M1205.5,556.4L1208.2,553.6L1210.9,556.4M1205.5,559.6L1208.2,562.4L1210.9,559.6" fill="none" stroke="#7f8896" stroke-width="1.3"/>
<path d="M1246.2,566.4V571.8H1240.5" stroke="#8a93a3" stroke-width="1.6" fill="none"/>
</svg>

<svg class="abs" style="left:0;top:0" width="1250" height="140" viewBox="0 0 1250 140">
 <!-- star box -->
 <rect x="17.5" y="16.5" width="22" height="23" rx="5.5" fill="none" stroke="#2f3641" stroke-width="1"/>
 <path d="M28.30,22.50L30.03,26.41L34.29,26.85L31.11,29.71L32.00,33.90L28.30,31.75L24.60,33.90L25.49,29.71L22.31,26.85L26.57,26.41Z" fill="none" stroke="#5a6270" stroke-width="1.25" stroke-linejoin="round"/>
 <!-- coin -->
 <defs>
  <linearGradient id="cg" x1="0" y1="0" x2="0" y2="1">
   <stop offset="0" stop-color="#f6d9c4"/><stop offset="0.1" stop-color="#ee8d5c"/><stop offset="0.3" stop-color="#e8663a"/><stop offset="0.43" stop-color="#ec8a6c"/><stop offset="0.55" stop-color="#f4d7dd"/><stop offset="0.66" stop-color="#d7c2f4"/><stop offset="0.82" stop-color="#ac86f6"/><stop offset="1" stop-color="#9361f4"/>
  </linearGradient>
  <linearGradient id="ai" x1="0" y1="0.6" x2="1" y2="0.3">
   <stop offset="0" stop-color="#4fb4ff"/><stop offset="0.55" stop-color="#6f8ffb"/><stop offset="1" stop-color="#9b7af7"/>
  </linearGradient>
  <linearGradient id="ai3" gradientUnits="userSpaceOnUse" x1="1162" y1="84" x2="1169" y2="84">
   <stop offset="0" stop-color="#58a6ff"/><stop offset="1" stop-color="#a98bff"/>
  </linearGradient>
  <linearGradient id="ai2" x1="0" y1="0" x2="1" y2="0.6">
   <stop offset="0" stop-color="#ad86f8"/><stop offset="0.5" stop-color="#c89af0"/><stop offset="1" stop-color="#f7b37e"/>
  </linearGradient>
 </defs>
 <circle cx="58.6" cy="27.9" r="10.8" fill="url(#cg)"/>
 <path d="M50.3,28.3H67M52.6,28.5V25.5c0,-2.6 3,-2.6 3,0V31c0,2.8 3,2.8 3,0V25.5c0,-2.6 3,-2.6 3,0V31c0,2.8 3,2.8 3,0V28.5" fill="none" stroke="#ffffff" stroke-opacity="0.85" stroke-width="0.9"/>
 <!-- pair dropdown triangle -->
 <path d="M187.3,17.6h7.8a0.6,0.6 0 0 1 0.45,1l-3.9,4.1a0.6,0.6 0 0 1 -0.9,0l-3.9,-4.1a0.6,0.6 0 0 1 0.45,-1z" fill="#eaecef"/>
 <!-- Mina price arrow -->
 <path d="M134.3,41.8L137.7,38.4M135.2,38.3H137.9V41" fill="none" stroke="#848e9c" stroke-width="1.05"/>
 <!-- networks dashed -->
 <path d="M747,31.3H796.5" stroke="#848e9c" stroke-width="1" stroke-dasharray="2.6,1.6" fill="none"/>
 <!-- tab underline -->
 <rect x="25" y="96" width="16" height="3" fill="#fcd535"/>
 <!-- toolbar dropdown triangle -->
 <path d="M213.8,118.2h6.6l-3.3,3.9z" fill="#848e9c"/>
 <!-- calendar icon -->
 <g fill="none" stroke="#848e9c" stroke-width="1.15">
  <rect x="240.6" y="115.6" width="13" height="10.8" rx="1"/>
  <path d="M240.6,118.3H253.6M243.2,113.4V116M251,113.4V116M245.2,122.7H250.8M247.2,120.6L245,122.7L247.2,124.8"/>
  <!-- line chart icon -->
  <path d="M271.7,113.8V126H284.2M273.6,123.4L276.6,119.3L278.8,121.3L282.8,116.8"/>
  <!-- candles icon -->
  <rect x="303" y="117.3" width="3.6" height="5.6" rx="0.6"/><path d="M304.8,115.4V117.3M304.8,122.9V125"/>
  <rect x="309.4" y="115.7" width="3.8" height="8.6" rx="0.6"/><path d="M311.3,113.6V115.7M311.3,124.3V126.4"/>
  <!-- list + hexagon -->
  <path d="M331.2,114.6H344.8M331.2,120.4H335.4M331.2,125.8H335.4"/>
  <path d="M340.3,117.6l3.9,2.2v4.5l-3.9,2.2l-3.9,-2.2v-4.5z"/>
  <!-- settings hexagon -->
  <path d="M368.3,113.9l5.3,3.05v6.1l-5.3,3.05l-5.3,-3.05v-6.1z"/>
 </g>
 <path d="M274.2,114.3h2.4l-1.2,1.5z" fill="#848e9c"/>
 <circle cx="340.3" cy="122.1" r="1.1" fill="#848e9c"/>
 <circle cx="368.3" cy="120" r="1.3" fill="#848e9c"/>
 <!-- AI sparkle -->
 <path d="M1159.3,74.2C1160.2,77.5 1161.7,79.0 1165.0,79.9C1161.7,80.80000000000001 1160.2,82.30000000000001 1159.3,85.60000000000001C1158.3999999999999,82.30000000000001 1156.8999999999999,80.80000000000001 1153.6,79.9C1156.8999999999999,79.0 1158.3999999999999,77.5 1159.3,74.2Z" fill="url(#ai)"/>
 <circle cx="1164.8" cy="74.5" r="3.5" fill="#181a20"/>
 <path d="M1164.8,71.6C1165.25,73.3 1166.0,74.05 1167.7,74.5C1166.0,74.95 1165.25,75.7 1164.8,77.4C1164.35,75.7 1163.6,74.95 1161.8999999999999,74.5C1163.6,74.05 1164.35,73.3 1164.8,71.6Z" fill="url(#ai2)"/>
 <path d="M1160.4,87.1l2.9,-6.2h6.6v6.2z" fill="#181a20"/>
 <path d="M1161.9,86.1l2.4,-4.2h1.5l0.6,4.2h-1.2l-0.15,-1h-1.5l-0.5,1z M1167.2,81.9h1.45l-0.25,4.2h-1.45z" fill="url(#ai3)"/>
 <!-- expand arrows -->
 <g fill="#7f8896" stroke="none">
  <path d="M1198.1,72.2l-4.4,0.7l3.7,3.7z"/>
  <path d="M1185,85.6l4.4,-0.7l-3.7,-3.7z"/>
 </g>
 <g fill="none" stroke="#7f8896" stroke-width="1.3">
  <path d="M1196,74.3L1192.2,78.1M1190.6,79.7L1187.1,83.5"/>
 </g>
 <g fill="none" stroke="#848e9c" stroke-width="1.45">
  <!-- grid icon -->
  <rect x="1216.8" y="71.9" width="5.2" height="5.2" rx="0.4"/>
  <path d="M1227.4,70.9l3.6,3.6l-3.6,3.6l-3.6,-3.6z"/>
  <circle cx="1219.4" cy="83.6" r="2.9"/>
  <rect x="1224.8" y="80.9" width="5.3" height="5.3" rx="0.4"/>
 </g>
</svg>

<div class="txt">
<div class="xaxis">
<span class="t" style="left:28px;top:554px;font-size:11px;color:#848e9c;transform:translateX(-0.18px) scaleX(1.0906);">06:00</span>
<span class="t" style="left:78px;top:554px;font-size:11px;color:#848e9c;transform:translateX(0.14px) scaleX(1.1008);">08:00</span>
<span class="t" style="left:129px;top:554px;font-size:11px;color:#848e9c;transform:translateX(-0.98px) scaleX(1.1175);">10:00</span>
<span class="t" style="left:179px;top:554px;font-size:11px;color:#848e9c;transform:translateX(-0.52px) scaleX(1.1206);">12:00</span>
<span class="t" style="left:230px;top:554px;font-size:11px;color:#848e9c;transform:translateX(-0.98px) scaleX(1.1175);">14:00</span>
<span class="t" style="left:280px;top:554px;font-size:11px;color:#848e9c;transform:translateX(-0.52px) scaleX(1.1206);">16:00</span>
<span class="t" style="left:331px;top:554px;font-size:11px;color:#848e9c;transform:translateX(-0.98px) scaleX(1.1175);">18:00</span>
<span class="t" style="left:381px;top:554px;font-size:11px;color:#848e9c;transform:translateX(0.17px) scaleX(1.0957);">20:00</span>
<span class="t" style="left:432px;top:554px;font-size:11px;color:#848e9c;transform:translateX(-0.64px) scaleX(1.1076);">22:00</span>
<span class="t" style="left:482px;top:554px;font-size:11px;color:#848e9c;transform:translateX(0.14px) scaleX(1.1008);">00:00</span>
<span class="t" style="left:533px;top:554px;font-size:11px;color:#848e9c;transform:translateX(-1.3px) scaleX(1.1609);">11/05</span>
<span class="t" style="left:583px;top:554px;font-size:11px;color:#848e9c;transform:translateX(0.14px) scaleX(1.1008);">04:00</span>
<span class="t" style="left:634px;top:554px;font-size:11px;color:#848e9c;transform:translateX(-0.18px) scaleX(1.0906);">06:00</span>
<span class="t" style="left:684px;top:554px;font-size:11px;color:#848e9c;transform:translateX(0.14px) scaleX(1.1008);">08:00</span>
<span class="t" style="left:735px;top:554px;font-size:11px;color:#848e9c;transform:translateX(-0.98px) scaleX(1.1175);">10:00</span>
<span class="t" style="left:785px;top:554px;font-size:11px;color:#848e9c;transform:translateX(-0.52px) scaleX(1.1206);">12:00</span>
<span class="t" style="left:836px;top:554px;font-size:11px;color:#848e9c;transform:translateX(-0.98px) scaleX(1.1175);">14:00</span>
<span class="t" style="left:886px;top:554px;font-size:11px;color:#848e9c;transform:translateX(-0.52px) scaleX(1.1206);">16:00</span>
<span class="t" style="left:937px;top:554px;font-size:11px;color:#848e9c;transform:translateX(-0.98px) scaleX(1.1175);">18:00</span>
<span class="t" style="left:987px;top:554px;font-size:11px;color:#848e9c;transform:translateX(0.17px) scaleX(1.0957);">20:00</span>
<span class="t" style="left:1038px;top:554px;font-size:11px;color:#848e9c;transform:translateX(-0.64px) scaleX(1.1076);">22:00</span>
<span class="t" style="left:1088px;top:554px;font-size:11px;color:#848e9c;transform:translateX(0.14px) scaleX(1.1008);">00:00</span>
<span class="t" style="left:1138px;top:554px;font-size:11px;color:#848e9c;transform:translateX(-0.39px) scaleX(1.1519);">11/06</span>
</div>
<span class="t" style="left:78px;top:13px;font-size:17.5px;color:#eaecef;transform:translateX(-0.64px) scaleX(1.058);-webkit-text-stroke:0.4px #eaecef">MINA/USDT</span>
<span class="t" style="left:78px;top:35px;font-size:11px;color:#848e9c;transform:translateX(-1.0px) scaleX(1.0298);">Mina Price</span>
<span class="t" style="left:216px;top:12px;font-size:18px;color:#2ebd85;transform:translateX(-0.53px) scaleX(1.0668);-webkit-text-stroke:0.3px #2ebd85">0.1547</span>
<span class="t" style="left:216px;top:35px;font-size:11.5px;color:#eaecef;transform:translateX(-0.41px) scaleX(1.0454);-webkit-text-stroke:0.15px #eaecef">$0.15470000</span>
<span class="t" style="left:301px;top:14px;font-size:11px;color:#848e9c;transform:translateX(-0.17px) scaleX(1.0661);">24h Chg</span>
<span class="t" style="left:301px;top:35px;font-size:11px;color:#2ebd85;transform:translateX(-0.33px) scaleX(1.0613);">0.0239 +18.27%</span>
<span class="t" style="left:401px;top:14px;font-size:11px;color:#848e9c;transform:translateX(-0.67px) scaleX(1.0845);">24h High</span>
<span class="t" style="left:400px;top:35px;font-size:11px;color:#eaecef;transform:translateX(0.21px) scaleX(1.116);-webkit-text-stroke:0.15px #eaecef">0.1560</span>
<span class="t" style="left:463px;top:14px;font-size:11px;color:#848e9c;transform:translateX(-0.3px) scaleX(1.0552);">24h Low</span>
<span class="t" style="left:463px;top:35px;font-size:11px;color:#eaecef;transform:translateX(-0.48px) scaleX(1.1115);-webkit-text-stroke:0.15px #eaecef">0.1225</span>
<span class="t" style="left:523px;top:14px;font-size:11px;color:#848e9c;transform:translateX(-1.16px) scaleX(1.0529);">24h Volume(MINA)</span>
<span class="t" style="left:522px;top:35px;font-size:11px;color:#eaecef;transform:translateX(-0.31px) scaleX(1.0818);-webkit-text-stroke:0.15px #eaecef">162,448,858.90</span>
<span class="t" style="left:634px;top:14px;font-size:11px;color:#848e9c;transform:translateX(0.18px) scaleX(1.0288);">24h Volume(USDT)</span>
<span class="t" style="left:635px;top:35px;font-size:11px;color:#eaecef;transform:translateX(-0.9px) scaleX(1.0853);-webkit-text-stroke:0.15px #eaecef">21,545,754.68</span>
<span class="t" style="left:748px;top:14px;font-size:11px;color:#848e9c;transform:translateX(-1.81px) scaleX(1.1025);">Networks</span>
<span class="t" style="left:747px;top:37px;font-size:11px;color:#eaecef;transform:translateX(-0.22px) scaleX(1.062);-webkit-text-stroke:0.15px #eaecef">MINA (1)</span>
<span class="t" style="left:812px;top:14px;font-size:11px;color:#848e9c;transform:translateX(-0.81px) scaleX(1.0484);">Token Tags</span>
<span class="t" style="left:812px;top:35px;font-size:11px;color:#f0b90b;transform:translateX(-0.98px) scaleX(1.016);">Layer 1 / Layer 2</span>
<span class="t" style="left:17px;top:71px;font-size:13px;color:#eaecef;transform:translateX(0.08px) scaleX(1.0064);-webkit-text-stroke:0.35px #eaecef">Chart</span>
<span class="t" style="left:71px;top:71px;font-size:13px;color:#848e9c;transform:translateX(-0.22px) scaleX(1.1125);-webkit-text-stroke:0.25px #848e9c">Info</span>
<span class="t" style="left:118px;top:71px;font-size:13px;color:#848e9c;transform:translateX(-0.5px) scaleX(0.9921);-webkit-text-stroke:0.25px #848e9c">Trading Data</span>
<span class="t" style="left:214px;top:71px;font-size:13px;color:#848e9c;transform:translateX(-0.29px) scaleX(0.9949);-webkit-text-stroke:0.25px #848e9c">Square</span>
<span class="t" style="left:18px;top:115px;font-size:11px;color:#848e9c;transform:translateX(0.38px) scaleX(1.0341);-webkit-text-stroke:0.2px #848e9c">Time</span>
<span class="t" style="left:54px;top:115px;font-size:11px;color:#848e9c;transform:translateX(-1.06px) scaleX(1.0814);-webkit-text-stroke:0.2px #848e9c">1s</span>
<span class="t" style="left:75px;top:115px;font-size:11px;color:#eaecef;transform:translateX(-0.25px) scaleX(1.0793);-webkit-text-stroke:0.4px #eaecef">15m</span>
<span class="t" style="left:108px;top:115px;font-size:11px;color:#848e9c;transform:translateX(-1.17px) scaleX(1.0901);-webkit-text-stroke:0.2px #848e9c">1H</span>
<span class="t" style="left:132px;top:115px;font-size:11px;color:#848e9c;transform:translateX(-0.45px) scaleX(1.1056);-webkit-text-stroke:0.2px #848e9c">4H</span>
<span class="t" style="left:156px;top:115px;font-size:11px;color:#848e9c;transform:translateX(-0.33px) scaleX(1.082);-webkit-text-stroke:0.2px #848e9c">1D</span>
<span class="t" style="left:180px;top:115px;font-size:11px;color:#848e9c;transform:translateX(-0.48px) scaleX(1.0408);-webkit-text-stroke:0.2px #848e9c">1W</span>
<span class="t" style="left:1065px;top:115px;font-size:11px;color:#eaecef;transform:translateX(0.04px) scaleX(1.0581);-webkit-text-stroke:0.2px #eaecef">Original</span>
<span class="t" style="left:1121px;top:115px;font-size:11px;color:#848e9c;transform:translateX(-0.11px) scaleX(1.0367);-webkit-text-stroke:0.2px #848e9c">Trading View</span>
<span class="t" style="left:1201px;top:115px;font-size:11px;color:#848e9c;transform:translateX(-0.26px) scaleX(1.102);-webkit-text-stroke:0.2px #848e9c">Depth</span>
<span class="t" style="left:31px;top:151px;font-size:11px;color:#848e9c;transform:translateX(-0.01px) scaleX(1.0991);">2025/11/05 23:00</span>
<span class="t" style="left:133px;top:151px;font-size:11px;color:#848e9c;transform:translateX(-1.27px) scaleX(1.0656);">Open:</span>
<span class="t" style="left:171px;top:151px;font-size:11px;color:#2ebd85;transform:translateX(-0.65px) scaleX(1.0939);">0.1517</span>
<span class="t" style="left:216px;top:151px;font-size:11px;color:#848e9c;transform:translateX(-1.08px) scaleX(1.0886);">High:</span>
<span class="t" style="left:250px;top:151px;font-size:11px;color:#2ebd85;transform:translateX(-0.37px) scaleX(1.1042);">0.1560</span>
<span class="t" style="left:295px;top:151px;font-size:11px;color:#848e9c;transform:translateX(-1.03px) scaleX(1.0605);">Low:</span>
<span class="t" style="left:326px;top:151px;font-size:11px;color:#2ebd85;transform:translateX(-0.7px) scaleX(1.111);">0.1493</span>
<span class="t" style="left:371px;top:151px;font-size:11px;color:#848e9c;transform:translateX(-1.22px) scaleX(1.065);">Close:</span>
<span class="t" style="left:410px;top:151px;font-size:11px;color:#2ebd85;transform:translateX(-0.27px) scaleX(1.1077);">0.1545</span>
<span class="t" style="left:455px;top:151px;font-size:11px;color:#848e9c;transform:translateX(-0.41px) scaleX(1.0073);">CHANGE:</span>
<span class="t" style="left:513px;top:151px;font-size:11px;color:#2ebd85;transform:translateX(-0.53px) scaleX(1.034);">1.91%</span>
<span class="t" style="left:553px;top:151px;font-size:11px;color:#848e9c;transform:translateX(-0.84px) scaleX(0.9862);">Range:</span>
<span class="t" style="left:596px;top:151px;font-size:11px;color:#2ebd85;transform:translateX(-0.92px) scaleX(1.0138);">4.41%</span>
<span class="t" style="left:31px;top:177px;font-size:11px;color:#848e9c;transform:translateX(-0.5px) scaleX(1.0872);">MA(7):</span>
<span class="t" style="left:73px;top:177px;font-size:11px;color:#f0b90b;transform:translateX(0.12px) scaleX(1.1067);">0.1472</span>
<span class="t" style="left:118px;top:177px;font-size:11px;color:#848e9c;transform:translateX(-1.13px) scaleX(1.0536);">MA(25):</span>
<span class="t" style="left:165px;top:177px;font-size:11px;color:#e0409f;transform:translateX(-0.04px) scaleX(1.12);">0.1386</span>
<span class="t" style="left:210px;top:177px;font-size:11px;color:#848e9c;transform:translateX(-0.22px) scaleX(1.0446);">MA(99):</span>
<span class="t" style="left:258px;top:177px;font-size:11px;color:#a573e6;transform:translateX(0.13px) scaleX(1.1188);">0.1320</span>
<span class="t" style="left:32px;top:453px;font-size:11px;color:#848e9c;transform:translateX(-0.72px) scaleX(1.0507);">Vol(MINA):</span>
<span class="t" style="left:95px;top:453px;font-size:11px;color:#eaecef;transform:translateX(-1.24px) scaleX(1.106);">2.266M</span>
<span class="t" style="left:142px;top:453px;font-size:11px;color:#848e9c;transform:translateX(-0.34px) scaleX(0.9761);">Vol(USDT)</span>
<span class="t" style="left:201px;top:453px;font-size:11px;color:#eaecef;transform:translateX(-0.68px) scaleX(1.0853);">346.304K</span>
<span class="t" style="left:259px;top:453px;font-size:11px;color:#56b8d8;transform:translateX(-0.51px) scaleX(1.0941);">1.957M</span>
<span class="t" style="left:306px;top:453px;font-size:11px;color:#d13a66;transform:translateX(-0.08px) scaleX(1.1067);">1.782M</span>
<span class="t" style="left:1175px;top:192px;font-size:11px;color:#848e9c;transform:translateX(-0.32px) scaleX(1.1154);">0.1500</span>
<span class="t" style="left:1175px;top:248px;font-size:11px;color:#848e9c;transform:translateX(-0.32px) scaleX(1.1154);">0.1400</span>
<span class="t" style="left:1175px;top:303px;font-size:11px;color:#848e9c;transform:translateX(-0.32px) scaleX(1.1154);">0.1300</span>
<span class="t" style="left:1175px;top:359px;font-size:11px;color:#848e9c;transform:translateX(-0.32px) scaleX(1.1154);">0.1200</span>
<span class="t" style="left:1176px;top:169px;font-size:11px;color:#ffffff;transform:translateX(-0.21px) scaleX(1.104);">0.1545</span>
<span class="t" style="left:1176px;top:452px;font-size:11px;color:#848e9c;transform:translateX(-1.19px) scaleX(1.0871);">10M</span>
<span class="t" style="left:1176px;top:490px;font-size:11px;color:#848e9c;transform:translateX(-0.69px) scaleX(1.0629);">5M</span>
<span class="t" style="left:1035px;top:158px;font-size:10.5px;color:#eaecef;transform:translateX(-0.52px) scaleX(0.9194);">0.1560</span>
<span class="t" style="left:19px;top:411px;font-size:10.5px;color:#eaecef;transform:translateX(0.17px) scaleX(0.9486);">0.1107</span>
</div>
</body></html>
